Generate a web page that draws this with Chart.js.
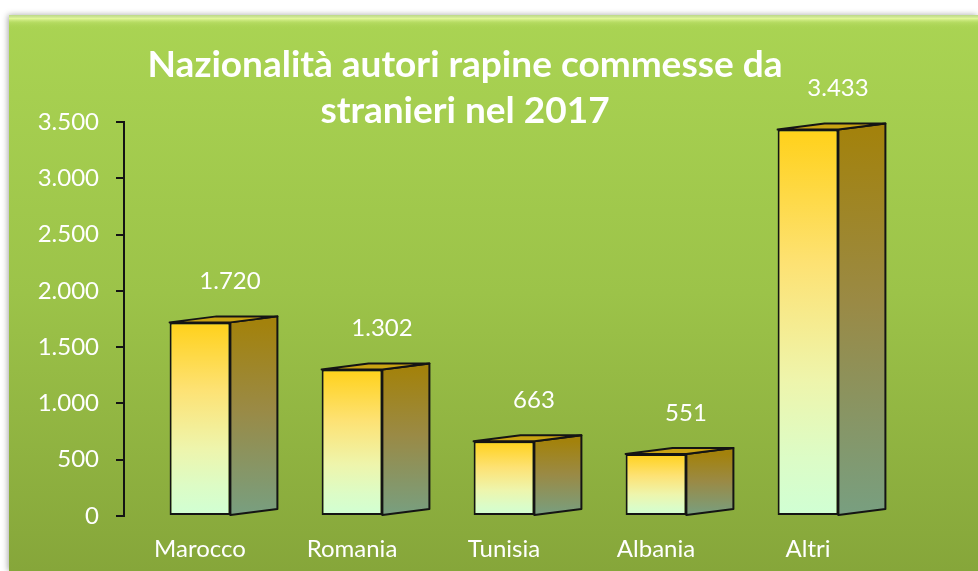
<!DOCTYPE html>
<html>
<head>
<meta charset="utf-8">
<title>Nazionalità autori rapine 2017</title>
<script src="https://cdn.jsdelivr.net/npm/chart.js@4.4.1/dist/chart.umd.min.js"></script>
<style>
  html, body { margin: 0; padding: 0; background: #fff; }
  canvas { display: block; }
</style>
</head>
<body>
<canvas id="rapine" width="978" height="571"></canvas>
<script>
'use strict';

// dati
var categories = ['Marocco', 'Romania', 'Tunisia', 'Albania', 'Altri'];
var autoriRapine = [1720, 1302, 663, 551, 3433];
var yMax = 3500;
var yStep = 500;
var titleLines = ['Nazionalità autori rapine commesse da', 'stranieri nel 2017'];

// profondità del parallelepipedo (px)
var DEPTH_X = 47;
var DEPTH_Y = -6;

function fmtIt(v) {
    return String(v).replace(/\B(?=(\d{3})+(?!\d))/g, '.');
}

Chart.defaults.font.family = 'Lato';
Chart.defaults.color = '#fff';

// sfondo verde con bordo smussato
var panelBg = {
    id: 'panelBg',
    beforeDraw: function (chart) {
        var ctx = chart.ctx;
        var w = chart.width, h = chart.height;
        var px = 9, py = 15;
        ctx.save();
        ctx.fillStyle = '#fff';
        ctx.fillRect(0, 0, w, h);

        ctx.shadowColor = 'rgba(0,0,0,0.35)';
        ctx.shadowBlur = 6;
        ctx.shadowOffsetX = -1;
        var g = ctx.createLinearGradient(0, py, 0, h);
        g.addColorStop(0, '#aad453');
        g.addColorStop(0.5, '#9cc349');
        g.addColorStop(1, '#86a63a');
        ctx.fillStyle = g;
        ctx.fillRect(px, py, w - px, h - py);
        ctx.shadowColor = 'transparent';

        // riflesso in alto
        var b = ctx.createLinearGradient(0, py, 0, py + 14);
        b.addColorStop(0, 'rgba(200,220,170,0.6)');
        b.addColorStop(0.25, 'rgba(230,250,160,0.9)');
        b.addColorStop(0.55, 'rgba(190,225,110,0.5)');
        b.addColorStop(1, 'rgba(170,212,83,0)');
        ctx.fillStyle = b;
        ctx.fillRect(px, py, w - px, 14);
        ctx.restore();
    }
};

// facce laterale e superiore di ogni barra
var box3d = {
    id: 'box3d',
    afterDatasetsDraw: function (chart) {
        var ctx = chart.ctx;
        var meta = chart.getDatasetMeta(0);
        ctx.save();
        ctx.lineJoin = 'round';
        ctx.lineWidth = 2;
        ctx.strokeStyle = '#141414';
        meta.data.forEach(function (bar) {
            var p = bar.getProps(['x', 'y', 'base', 'width'], true);
            var l = p.x - p.width / 2, r = p.x + p.width / 2;
            var t = p.y, bt = p.base;

            var sg = ctx.createLinearGradient(0, t, 0, bt);
            sg.addColorStop(0, '#a3820c');
            sg.addColorStop(0.45, '#9a8a45');
            sg.addColorStop(1, '#789f80');
            ctx.fillStyle = sg;
            ctx.beginPath();
            ctx.moveTo(r, t);
            ctx.lineTo(r + DEPTH_X, t + DEPTH_Y);
            ctx.lineTo(r + DEPTH_X, bt + DEPTH_Y);
            ctx.lineTo(r, bt);
            ctx.closePath();
            ctx.fill();
            ctx.stroke();

            ctx.fillStyle = '#c9a313';
            ctx.beginPath();
            ctx.moveTo(l, t);
            ctx.lineTo(r, t);
            ctx.lineTo(r + DEPTH_X, t + DEPTH_Y);
            ctx.lineTo(l + DEPTH_X, t + DEPTH_Y);
            ctx.closePath();
            ctx.fill();
            ctx.stroke();
        });
        ctx.restore();
    }
};

// titolo ed etichette dei valori
var texts = {
    id: 'texts',
    afterDraw: function (chart) {
        var ctx = chart.ctx;
        ctx.save();
        ctx.fillStyle = '#fff';
        ctx.textAlign = 'center';
        ctx.textBaseline = 'alphabetic';
        ctx.font = 'bold 37px Lato';
        ctx.fillText(titleLines[0], 465, 77);
        ctx.fillText(titleLines[1], 465, 123);

        ctx.font = '24px Lato';
        ctx.textBaseline = 'middle';
        var meta = chart.getDatasetMeta(0);
        meta.data.forEach(function (bar, i) {
            ctx.fillText(fmtIt(autoriRapine[i]), bar.x + 30, bar.y - 41);
        });
        ctx.restore();
    }
};

function frontFill(context) {
    var chart = context.chart;
    if (!chart.chartArea) return '#ffe680';
    var yScale = chart.scales.y;
    var top = yScale.getPixelForValue(autoriRapine[context.dataIndex]);
    var base = yScale.getPixelForValue(0);
    var g = chart.ctx.createLinearGradient(0, top, 0, base);
    g.addColorStop(0, '#ffd11a');
    g.addColorStop(0.35, '#fde274');
    g.addColorStop(0.65, '#eef5ac');
    g.addColorStop(0.85, '#dcfcc6');
    g.addColorStop(1, '#d0ffd4');
    return g;
}

new Chart(document.getElementById('rapine'), {
    type: 'bar',
    data: {
        labels: categories,
        datasets: [{
            data: autoriRapine,
            backgroundColor: frontFill,
            borderColor: '#141414',
            borderWidth: 2,
            borderSkipped: false,
            categoryPercentage: 1,
            barPercentage: 0.4
        }]
    },
    options: {
        responsive: false,
        animation: false,
        devicePixelRatio: 1,
        layout: { padding: { left: 0, right: 94, top: 122, bottom: 0 } },
        plugins: {
            legend: { display: false },
            title: { display: false },
            tooltip: { enabled: false }
        },
        scales: {
            x: {
                grid: { display: false },
                border: { display: false },
                ticks: { color: '#fff', font: { size: 24 }, padding: 11, maxRotation: 0 },
                afterFit: function (s) { s.height = 55; }
            },
            y: {
                min: 0,
                max: yMax,
                grid: { drawOnChartArea: false, drawTicks: true, tickLength: 8, color: '#141414', lineWidth: 2 },
                border: { display: true, color: '#141414', width: 2 },
                ticks: {
                    stepSize: yStep,
                    color: '#fff',
                    font: { size: 24 },
                    padding: 17,
                    callback: function (v) { return fmtIt(v); }
                },
                afterFit: function (s) { s.width = 124; }
            }
        }
    },
    plugins: [panelBg, box3d, texts]
});
</script>
</body>
</html>
